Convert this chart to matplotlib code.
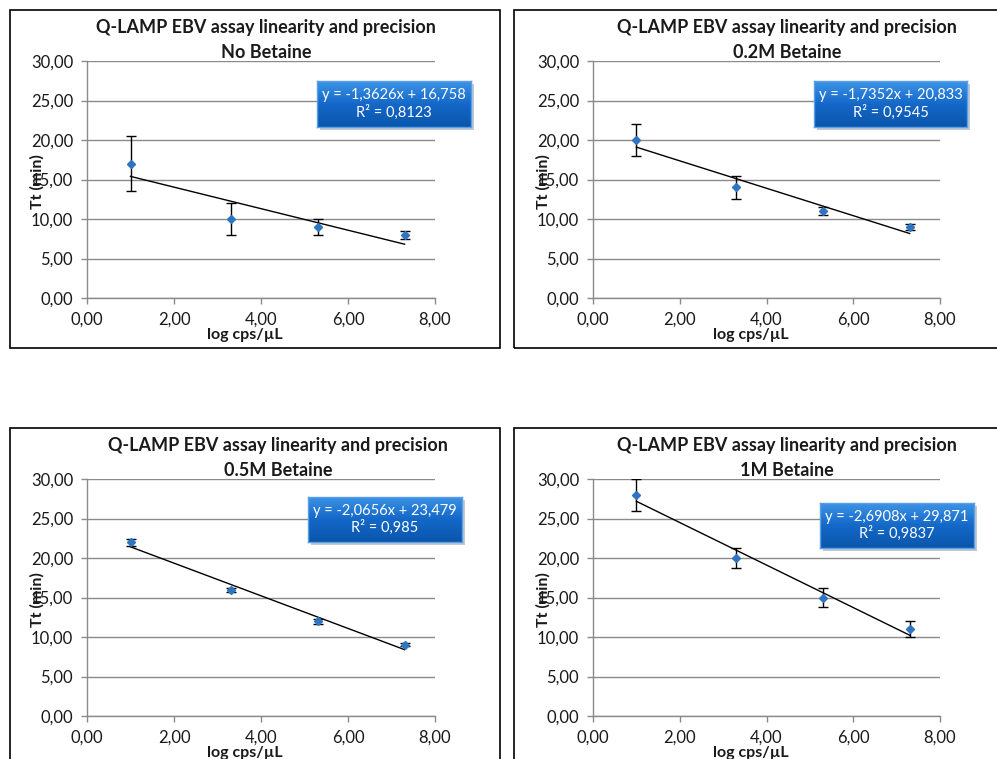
import numpy as np
import matplotlib
matplotlib.use("Agg")
import matplotlib.pyplot as plt
from matplotlib.patches import Rectangle
from matplotlib.ticker import FuncFormatter, MultipleLocator
from matplotlib.colors import LinearSegmentedColormap

plt.rcParams['font.family'] = ['Lato', 'DejaVu Sans']

# ---- data ----
log_cps = [1.0, 3.301, 5.301, 7.301]
subtitles = ["No Betaine", "0.2M Betaine", "0.5M Betaine", "1M Betaine"]
tt_no = [17.0, 10.0, 9.0, 8.0]
err_no = [3.5, 2.0, 1.0, 0.5]
tt_02 = [20.0, 14.0, 11.0, 9.0]
err_02 = [2.0, 1.5, 0.5, 0.35]
tt_05 = [22.0, 16.0, 12.0, 9.0]
err_05 = [0.45, 0.25, 0.3, 0.2]
tt_1 = [28.0, 20.0, 15.0, 11.0]
err_1 = [2.0, 1.3, 1.2, 1.0]
eq_texts = ["y = -1,3626x + 16,758\nR² = 0,8123",
            "y = -1,7352x + 20,833\nR² = 0,9545",
            "y = -2,0656x + 23,479\nR² = 0,985",
            "y = -2,6908x + 29,871\nR² = 0,9837"]
series = [tt_no, tt_02, tt_05, tt_1]
errors = [err_no, err_02, err_05, err_1]

W, H = 997, 759
fig = plt.figure(figsize=(W / 100, H / 100), dpi=100)

def fx(x):
    return x / W

def fy(y):
    return 1 - y / H

# panel layout in pixels
frames = [(10, 10, 500, 348), (514, 10, 1000, 348), (10, 428, 500, 770), (514, 428, 1000, 770)]
plots = [(87, 61, 435, 298), (593, 61, 940, 298), (87, 479, 435, 716), (593, 479, 940, 716)]
title_x = [266, 787, 278, 787]
eq_boxes = [(317, 81, 471, 127), (814, 81, 967, 127), (308, 497, 462, 542), (820, 503, 974, 548)]

fmt = FuncFormatter(lambda v, p: ("%.2f" % v).replace('.', ','))
grey = '#8a8a8a'
cmap = LinearSegmentedColormap.from_list('b', ['#3d93e6', '#1468c8', '#0a56ac'])

for i in range(4):
    l, t, r, b = frames[i]
    fig.patches.append(Rectangle((fx(l), fy(b)), fx(r - l), (b - t) / H, transform=fig.transFigure,
                                 fill=False, edgecolor='black', linewidth=1.2, zorder=0))
    pl, pt, pr, pb = plots[i]
    ax = fig.add_axes([fx(pl), fy(pb), fx(pr - pl), (pb - pt) / H])
    ax.set_xlim(0, 8)
    ax.set_ylim(0, 30)
    ax.xaxis.set_major_locator(MultipleLocator(2))
    ax.yaxis.set_major_locator(MultipleLocator(5))
    ax.xaxis.set_major_formatter(fmt)
    ax.yaxis.set_major_formatter(fmt)
    for s in ['top', 'right']:
        ax.spines[s].set_visible(False)
    for s in ['left', 'bottom']:
        ax.spines[s].set_color(grey)
        ax.spines[s].set_linewidth(1.0)
    ax.grid(axis='y', color=grey, linewidth=1.0)
    ax.set_axisbelow(True)
    ax.tick_params(axis='both', color=grey, length=4, width=1.0, labelsize=12, labelcolor='#1a1a1a')
    ax.tick_params(axis='y', pad=6)
    ax.tick_params(axis='x', pad=6)

    y = series[i]
    e = errors[i]
    ax.errorbar(log_cps, y, yerr=e, fmt='none', ecolor='black', elinewidth=1.0, capsize=3.5, capthick=1.0, zorder=3)
    ax.plot(log_cps, y, linestyle='none', marker='D', markersize=4.5, color='#2e74c0', zorder=4)
    k, c = np.polyfit(log_cps, y, 1)
    xs = np.array([min(log_cps), max(log_cps)])
    ax.plot(xs, k * xs + c, color='black', linewidth=1.0, zorder=2)

    # titles and labels
    fig.text(fx(title_x[i]), fy(pt - 33), "Q-LAMP EBV assay linearity and precision", ha='center', va='center',
             fontsize=13, fontweight='bold', color='#1a1a1a')
    fig.text(fx(title_x[i]), fy(pt - 9), subtitles[i], ha='center', va='center',
             fontsize=13, fontweight='bold', color='#1a1a1a')
    fig.text(fx(pl + (pr - pl) / 2 - 16), fy(pb + 37), "log cps/µL", ha='center', va='center',
             fontsize=11.5, fontweight='bold', color='#1a1a1a')
    fig.text(fx(pl - 50), fy(pt + 121), "Tt (min)", ha='center', va='center', rotation=90,
             fontsize=11.5, fontweight='bold', color='#1a1a1a')

    # equation box with gradient and shadow
    bl, bt, br, bb = eq_boxes[i]
    fig.patches.append(Rectangle((fx(bl + 3), fy(bb + 3)), fx(br - bl), (bb - bt) / H, transform=fig.transFigure,
                                 facecolor='#9aa6b8', edgecolor='none', alpha=0.6, zorder=5))
    bax = fig.add_axes([fx(bl), fy(bb), fx(br - bl), (bb - bt) / H], zorder=6)
    grad = np.linspace(0, 1, 64).reshape(-1, 1)
    bax.imshow(grad, aspect='auto', cmap=cmap, extent=[0, 1, 0, 1], origin='upper')
    bax.set_xlim(0, 1)
    bax.set_ylim(0, 1)
    bax.set_xticks([])
    bax.set_yticks([])
    for s in bax.spines.values():
        s.set_color('#5aa0e8')
        s.set_linewidth(1.0)
    bax.text(0.5, 0.5, eq_texts[i], ha='center', va='center', color='white', fontsize=10.5,
             linespacing=1.2, transform=bax.transAxes)

fig.savefig("out.png", dpi=100)
